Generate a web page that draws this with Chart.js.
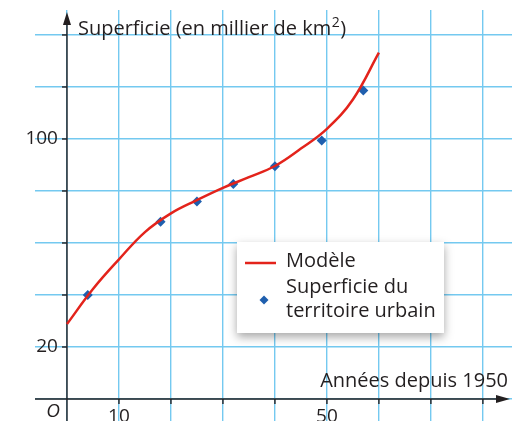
<!DOCTYPE html>
<html>
<head>
<meta charset="utf-8">
<script src="https://cdn.jsdelivr.net/npm/chart.js@4/dist/chart.umd.min.js"></script>
<style>
  html, body { margin: 0; padding: 0; background: #fff; overflow: hidden; }
  /* le canevas dépasse un peu pour que le quadrillage aille jusqu'au bord bas */
  #wrap { width: 532px; height: 421px; overflow: hidden; }
  canvas { display: block; }
</style>
</head>
<body>
<div id="wrap"><canvas id="chart" width="532" height="426"></canvas></div>
<script>
// Modèle : courbe relevée tous les 5 ans
const modelYears = [0, 5, 10, 15, 20, 25, 30, 35, 40, 45, 50, 55, 60];
const modelValues = [28.8, 42.3, 53.7, 64.2, 71.4, 76.5, 81.2, 85.3, 89.6, 96.3, 103.9, 115.2, 133.2];

// relevés de la superficie du territoire urbain
const surveyYears = [4, 18, 25, 32, 40, 49, 57];
const surveyValues = [40, 68.2, 76, 82.7, 89.5, 99.4, 118.6];

const xTickLabels = [10, 50];
const yTickLabels = [20, 100];
const xTitle = 'Années depuis 1950';
const yTitle = 'Superficie (en millier de km';
const legendLines = [['Modèle'], ['Superficie du', 'territoire urbain']];

const FONT = '"Open Sans", "DejaVu Sans", sans-serif';
const INK = '#231f20';
const GRID = '#74c9f0';
const RED = '#e3231b';
const BLUE = '#1f5fae';

function toPoints(xs, ys) {
  return xs.map((x, i) => ({ x: x, y: ys[i] }));
}

// axes fléchés, graduations et textes
const axesPlugin = {
  id: 'axes',
  beforeDatasetsDraw(chart) {
    const { ctx, chartArea: a, scales: { x, y } } = chart;
    const x0 = x.getPixelForValue(0);
    const y0 = y.getPixelForValue(0);
    ctx.save();
    ctx.strokeStyle = INK;
    ctx.fillStyle = INK;
    ctx.lineWidth = 1.4;

    // axe vertical
    ctx.beginPath();
    ctx.moveTo(x0, a.bottom);
    ctx.lineTo(x0, 22);
    ctx.stroke();
    ctx.beginPath();
    ctx.moveTo(x0, 12);
    ctx.lineTo(x0 - 4, 25);
    ctx.lineTo(x0 + 4, 25);
    ctx.closePath();
    ctx.fill();

    // axe horizontal
    ctx.beginPath();
    ctx.moveTo(a.left, y0);
    ctx.lineTo(500, y0);
    ctx.stroke();
    ctx.beginPath();
    ctx.moveTo(510, y0);
    ctx.lineTo(496, y0 - 4);
    ctx.lineTo(496, y0 + 4);
    ctx.closePath();
    ctx.fill();

    // graduations
    y.ticks.forEach(t => {
      if (t.value <= 0) return;
      const py = y.getPixelForValue(t.value);
      ctx.beginPath();
      ctx.moveTo(x0 - 5, py);
      ctx.lineTo(x0, py);
      ctx.stroke();
    });
    x.ticks.forEach(t => {
      if (t.value <= 0) return;
      const px = x.getPixelForValue(t.value);
      ctx.beginPath();
      ctx.moveTo(px, y0);
      ctx.lineTo(px, y0 + 5);
      ctx.stroke();
    });
    ctx.restore();
  },
  afterDraw(chart) {
    const { ctx, scales: { x, y } } = chart;
    const x0 = x.getPixelForValue(0);
    const y0 = y.getPixelForValue(0);
    ctx.save();
    ctx.fillStyle = INK;
    ctx.font = '19px ' + FONT;

    ctx.textAlign = 'right';
    ctx.textBaseline = 'middle';
    yTickLabels.forEach(v => ctx.fillText(String(v), x0 - 9, y.getPixelForValue(v)));

    ctx.textAlign = 'center';
    ctx.textBaseline = 'top';
    xTickLabels.forEach(v => ctx.fillText(String(v), x.getPixelForValue(v), y0 + 8));

    ctx.font = 'italic 19px ' + FONT;
    ctx.textAlign = 'right';
    ctx.fillText('O', x0 - 7, y0 + 3);

    // titres des axes
    ctx.font = '20px ' + FONT;
    ctx.textAlign = 'right';
    ctx.textBaseline = 'alphabetic';
    ctx.fillText(xTitle, 508, y0 - 12);

    ctx.textAlign = 'left';
    let tx = x0 + 11;
    ctx.fillText(yTitle, tx, 35);
    tx += ctx.measureText(yTitle).width;
    ctx.font = '14px ' + FONT;
    ctx.fillText('2', tx + 0.5, 27);
    tx += ctx.measureText('2').width + 1;
    ctx.font = '20px ' + FONT;
    ctx.fillText(')', tx, 35);
    ctx.restore();
  }
};

// légende encadrée avec ombre
const legendPlugin = {
  id: 'boxLegend',
  afterDatasetsDraw(chart) {
    const { ctx } = chart;
    const bx = 237, by = 242, bw = 207, bh = 91;
    ctx.save();
    ctx.shadowColor = 'rgba(0, 0, 0, 0.35)';
    ctx.shadowBlur = 9;
    ctx.shadowOffsetY = 4;
    ctx.fillStyle = '#fff';
    ctx.fillRect(bx, by, bw, bh);
    ctx.restore();

    const model = chart.data.datasets[0];
    const survey = chart.data.datasets[1];
    ctx.save();
    ctx.strokeStyle = model.borderColor;
    ctx.lineWidth = model.borderWidth;
    ctx.beginPath();
    ctx.moveTo(245, 263);
    ctx.lineTo(276, 263);
    ctx.stroke();

    ctx.fillStyle = survey.backgroundColor;
    const dx = 264, dy = 300, r = 4.5;
    ctx.beginPath();
    ctx.moveTo(dx, dy - r);
    ctx.lineTo(dx + r, dy);
    ctx.lineTo(dx, dy + r);
    ctx.lineTo(dx - r, dy);
    ctx.closePath();
    ctx.fill();

    ctx.fillStyle = INK;
    ctx.font = '20px ' + FONT;
    ctx.textAlign = 'left';
    ctx.textBaseline = 'middle';
    ctx.fillText(legendLines[0][0], 286, 261);
    ctx.fillText(legendLines[1][0], 286, 287);
    ctx.fillText(legendLines[1][1], 286, 311);
    ctx.restore();
  }
};

new Chart(document.getElementById('chart'), {
  type: 'scatter',
  data: {
    datasets: [
      {
        label: 'Modèle',
        type: 'line',
        data: toPoints(modelYears, modelValues),
        borderColor: RED,
        borderWidth: 2.5,
        pointRadius: 0,
        fill: false,
        tension: 0.4
      },
      {
        label: 'Superficie du territoire urbain',
        data: toPoints(surveyYears, surveyValues),
        backgroundColor: BLUE,
        borderColor: BLUE,
        pointStyle: 'rectRot',
        pointRadius: 5,
        borderWidth: 0
      }
    ]
  },
  options: {
    responsive: false,
    animation: false,
    layout: { padding: { left: 35, right: 20, top: 10, bottom: 0 } },
    plugins: {
      legend: { display: false },
      tooltip: { enabled: false }
    },
    scales: {
      x: {
        type: 'linear',
        min: -6.15,
        max: 85.6,
        ticks: { display: false, stepSize: 10, includeBounds: false },
        grid: { color: GRID, lineWidth: 1.4, drawTicks: false },
        border: { display: false },
        afterFit(scale) { scale.height = 0; }
      },
      y: {
        type: 'linear',
        min: -8.46,
        max: 149.6,
        ticks: { display: false, stepSize: 20, includeBounds: false },
        grid: { color: GRID, lineWidth: 1.4, drawTicks: false },
        border: { display: false },
        afterFit(scale) { scale.width = 0; }
      }
    }
  },
  plugins: [axesPlugin, legendPlugin]
});
</script>
</body>
</html>
